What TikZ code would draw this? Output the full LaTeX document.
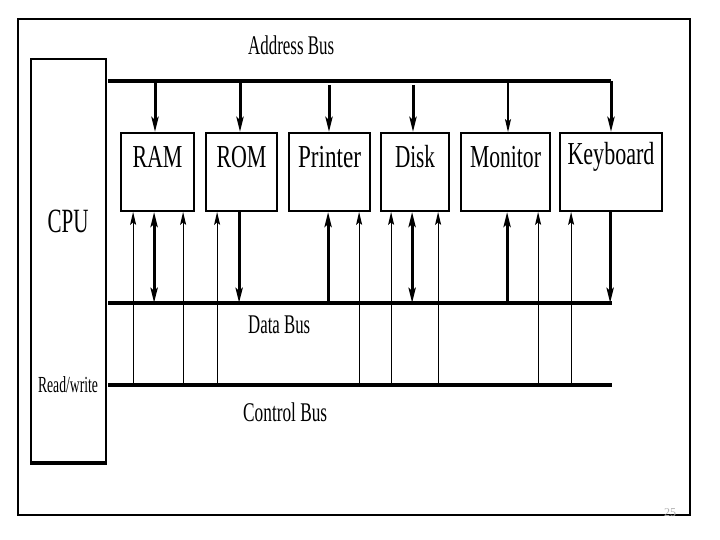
\documentclass[tikz,border=0pt]{standalone}
\usepackage{fontspec}
\setmainfont{Liberation Serif}
\usetikzlibrary{arrows.meta}
\newcommand\sqz[2]{\resizebox{#1}{\height}{#2}}
\begin{document}
\begin{tikzpicture}[x=1pt,y=-1pt,
  frame/.style={draw, line width=1.8pt},
  box/.style={draw, line width=1.8pt, inner sep=0pt},
  lbl/.style={inner sep=0pt, anchor=base},
  bus/.style={line width=3.5pt, line cap=butt},
  fatarr/.style={line width=3pt, -{Stealth[length=15pt,width=7pt,inset=3pt]}},
  fatbi/.style={line width=3pt, {Stealth[length=15pt,width=7pt,inset=3pt]}-{Stealth[length=15pt,width=7pt,inset=3pt]}},
  thinarr/.style={line width=1.2pt, -{Stealth[length=13pt,width=6pt,inset=2.5pt]}}
]
\useasboundingbox (0,0) rectangle (720,540);
\fill[white] (0,0) rectangle (720,540);
% outer frame
\draw[frame] (18,19) rectangle (690,515);
\node[text=gray!60, inner sep=0pt, font=\fontsize{12}{13}\selectfont] (pg) at (670,513) {25};

% CPU
\node[box, line width=1.5pt, minimum width=75pt, minimum height=403pt] (cpu) at (68.5,260.5) {};
\draw[line width=3.5pt] (cpu.south west) -- (cpu.south east);
\node[lbl, font=\fontsize{34}{36}\selectfont] (cput) at (68,233) {\sqz{41pt}{CPU}};
\node[lbl, font=\fontsize{23}{25}\selectfont] (rw) at (68,392) {\sqz{60pt}{Read/write}};

% device boxes
\node[box, minimum width=73pt, minimum height=78pt] (ram) at (157.5,172) {};
\node[box, minimum width=71pt, minimum height=78pt] (rom) at (241.5,172) {};
\node[box, minimum width=81pt, minimum height=78pt] (prn) at (329.5,172) {};
\node[box, minimum width=68pt, minimum height=78pt] (dsk) at (415,172) {};
\node[box, minimum width=89pt, minimum height=78pt] (mon) at (505.5,172) {};
\node[box, minimum width=102pt, minimum height=78pt] (kbd) at (611,172) {};

\begin{scope}[font=\fontsize{32}{34}\selectfont]
\node[lbl] (ramt) at ([yshift=4pt]ram.center) {\sqz{50pt}{RAM}};
\node[lbl] (romt) at ([yshift=4pt]rom.center) {\sqz{50pt}{ROM}};
\node[lbl] (prnt) at ([yshift=4pt]prn.center) {\sqz{63pt}{Printer}};
\node[lbl] (dskt) at ([yshift=4pt]dsk.center) {\sqz{40pt}{Disk}};
\node[lbl] (mont) at ([yshift=4pt]mon.center) {\sqz{71pt}{Monitor}};
\node[lbl] (kbdt) at ([yshift=7pt]kbd.center) {\sqz{87pt}{Keyboard}};
\end{scope}

% bus labels
\begin{scope}[font=\fontsize{27}{29}\selectfont]
\node[lbl, anchor=base west] (abl) at (248,55) {\sqz{86pt}{Address Bus}};
\node[lbl, anchor=base west] (dbl) at (248,333) {\sqz{62pt}{Data Bus}};
\node[lbl, anchor=base west] (cbl) at (243,421) {\sqz{84pt}{Control Bus}};
\end{scope}

% bus coordinates
\coordinate (ab0) at (108,81);
\coordinate (ab1) at (611,81);
\coordinate (db0) at (108,303);
\coordinate (db1) at (612,303);
\coordinate (cb0) at (108,385);
\coordinate (cb1) at (612,385);

% top connection points
\coordinate (ramN) at ([xshift=-2.5pt]ram.north);
\coordinate (romN) at ([xshift=-1.5pt]rom.north);
\coordinate (prnN) at ([xshift=-0.5pt]prn.north);
\coordinate (dskN) at ([xshift=-2pt]dsk.north);
\coordinate (monN) at ([xshift=2.5pt]mon.north);
\coordinate (kbdN) at (kbd.north);

% bottom connection points
\coordinate (ra1) at ([xshift=13pt]ram.south west);
\coordinate (ra2) at ([xshift=34pt]ram.south west);
\coordinate (ra3) at ([xshift=63pt]ram.south west);
\coordinate (ro1) at ([xshift=12pt]rom.south west);
\coordinate (ro2) at ([xshift=34pt]rom.south west);
\coordinate (pr1) at ([xshift=40pt]prn.south west);
\coordinate (pr2) at ([xshift=71pt]prn.south west);
\coordinate (di1) at ([xshift=11pt]dsk.south west);
\coordinate (di2) at ([xshift=32pt]dsk.south west);
\coordinate (di3) at ([xshift=58pt]dsk.south west);
\coordinate (mo1) at ([xshift=47pt]mon.south west);
\coordinate (mo2) at ([xshift=78pt]mon.south west);
\coordinate (ke1) at ([xshift=12pt]kbd.south west);
\coordinate (ke2) at ([xshift=51pt]kbd.south west);

% address bus
\draw[bus] (ab0) -- (ab1);
\draw[fatarr] (ab1) -- (kbdN);
\draw[fatarr] (ramN |- ab0) -- (ramN);
\draw[fatarr] (romN |- ab0) -- (romN);
\draw[fatarr] ([yshift=-4pt]prnN |- ab0) -- (prnN);
\draw[fatarr] ([yshift=-4pt]dskN |- ab0) -- (dskN);
\draw[thinarr] (monN |- ab0) -- (monN);

% control lines (thin, from control bus up to devices)
\foreach \p in {ra1,ra3,ro1,pr2,di1,di3,mo2,ke1}
  \draw[thinarr] (\p |- cb0) -- (\p);

% data lines
\draw[fatbi] (ra2 |- db0) -- (ra2);
\draw[fatarr] (ro2) -- (ro2 |- db0);
\draw[fatarr] (pr1 |- db0) -- (pr1);
\draw[fatbi] (di2 |- db0) -- (di2);
\draw[fatarr] (mo1 |- db0) -- (mo1);
\draw[fatarr] (ke2) -- (ke2 |- db0);

% data and control buses
\draw[bus] (db0) -- (db1);
\draw[bus] (cb0) -- (cb1);
\end{tikzpicture}
\end{document}
